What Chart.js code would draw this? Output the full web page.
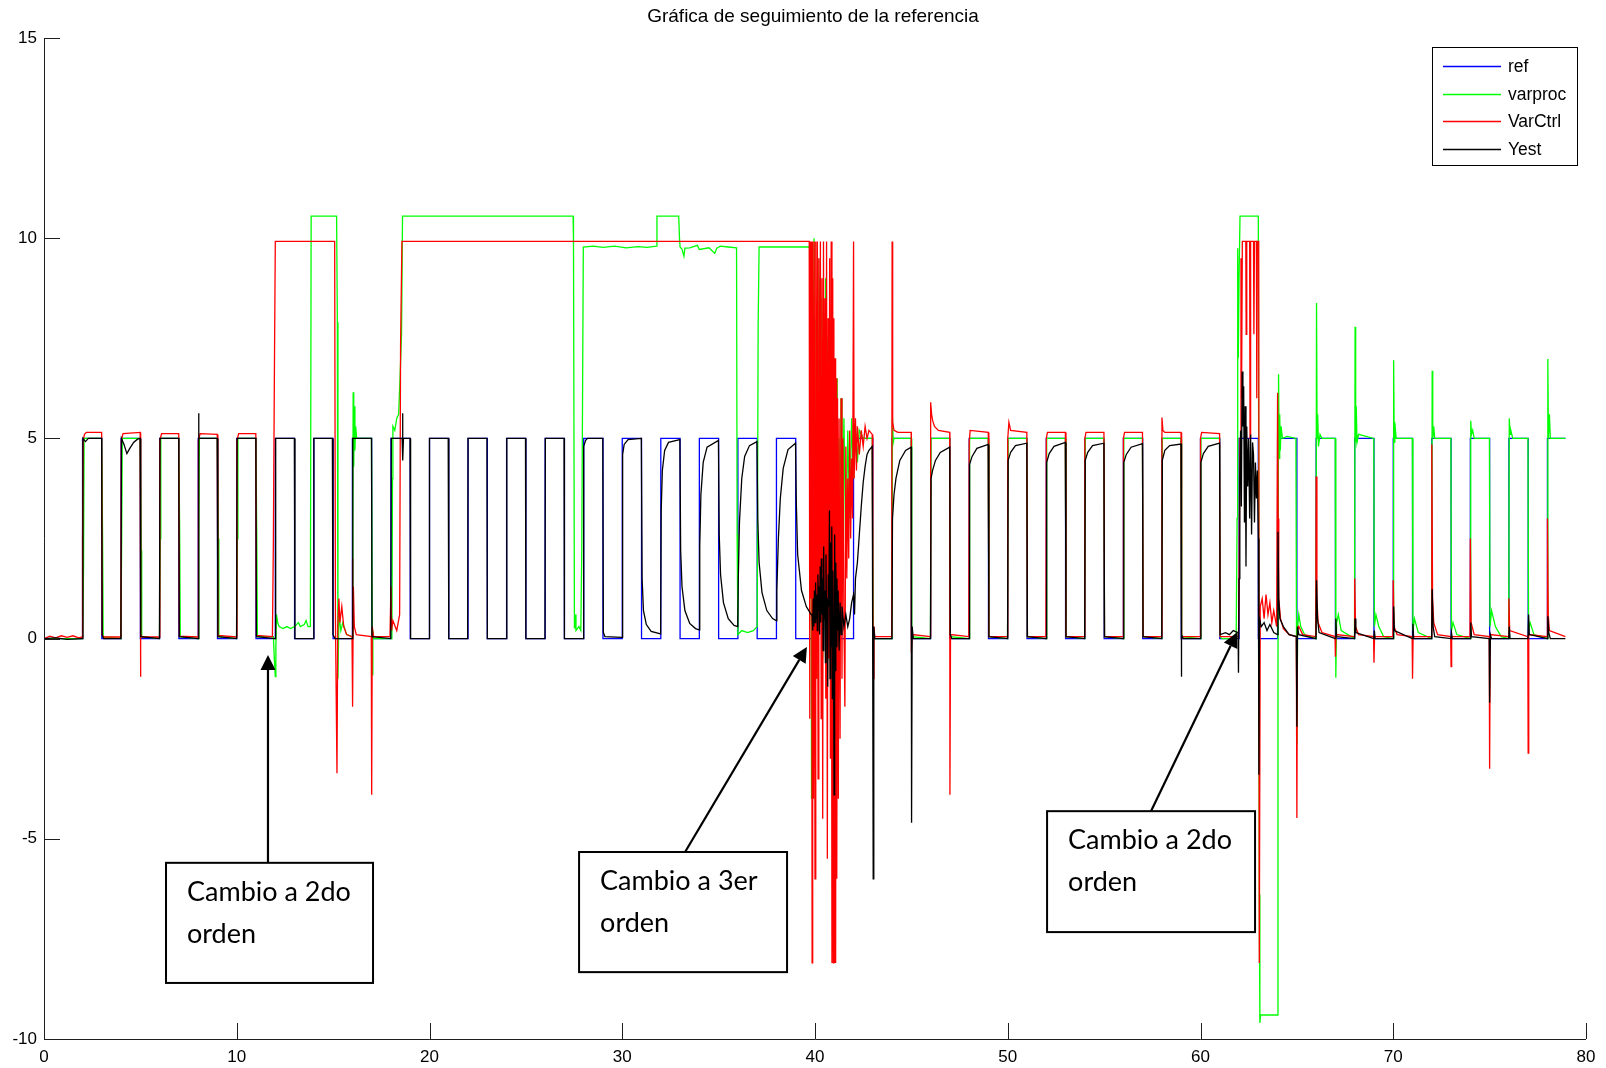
<!DOCTYPE html>
<html lang="es">
<head>
<meta charset="utf-8">
<title>Gráfica de seguimiento de la referencia</title>
<script src="https://cdn.jsdelivr.net/npm/chart.js@4.4.1/dist/chart.umd.min.js"></script>
<style>
  html, body { margin: 0; padding: 0; background: #ffffff; }
  #wrap { width: 1606px; height: 1068px; }
</style>
</head>
<body>
<div id="wrap"><canvas id="plot" width="1606" height="1068"></canvas></div>
<script>
// ---- Series: [time (s), value] ----
// ref: set-point square wave (stepped, each point marks a switch)
const ref = [
  [0,0],[2,5],[3,0],[4,5],[5,0],[6,5],[7,0],[8,5],[9,0],[10,5],[11,0],[12,5],[13,0],[14,5],[15,0],
  [16,5],[17,0],[18,5],[19,0],[20,5],[21,0],[22,5],[23,0],[24,5],[25,0],[26,5],[27,0],[28,5],[29,0],
  [30,5],[31,0],[32,5],[33,0],[34,5],[35,0],[36,5],[37,0],[38,5],[39,0],[39.86,5],[41,0],[42,5],[43,0],
  [44,5],[45,0],[46,5],[47,0],[48,5],[49,0],[50,5],[51,0],[52,5],[53,0],[54,5],[55,0],[56,5],[57,0],
  [58,5],[59,0],[60,5],[61,0],[62,5],[63,0],[64,5],[65,0],[66,5],[67,0],[68,5],[69,0],[70,5],[71,0],
  [72,5],[73,0],[74,5],[75,0],[76,5],[77,0],[78,5],[78.93,5]
];

// varproc: process variable
const varproc = [
  [0,0],[2.0,0],[2.05,1.7],[2.08,5.0],[2.99,5.0],[3.04,2.5],[3.07,0.05],[3.99,0],
  [4.03,2.5],[4.06,5.0],[4.99,5.0],[5.04,2.2],[5.07,0.05],[5.99,0],
  [6.03,2.5],[6.06,5.0],[6.99,5.0],[7.04,2.6],[7.07,0.05],[7.99,0],
  [8.03,2.5],[8.06,5.0],[8.99,5.0],[9.04,2.5],[9.07,0.05],[9.99,0],
  [10.03,2.5],[10.06,5.0],[10.99,5.0],[11.04,2.5],[11.07,0.05],[11.9,0.05],
  [11.95,-0.5],[12.0,-0.95],[12.03,-0.2],[12.06,0.6],[12.12,0.4],[12.2,0.3],[12.4,0.25],[12.6,0.3],
  [12.8,0.25],[13.0,0.3],[13.2,0.4],[13.3,0.3],[13.5,0.35],[13.6,0.45],[13.7,0.3],[13.82,0.3],
  [13.86,10.55],[15.18,10.55],[15.22,7.9],[15.25,-1.0],[15.3,0.6],[15.4,0.2],[15.5,0.4],[15.7,0.1],[15.98,0.05],
  [16.02,3.0],[16.04,6.15],[16.07,4.3],[16.1,5.8],[16.13,4.7],[16.17,5.3],[16.22,5.0],[16.99,5.0],
  [17.03,-0.9],[17.06,0.2],[17.1,0],[18.05,0],[18.08,4.0],[18.1,5.3],[18.2,5.2],[18.3,5.5],[18.4,5.6],
  [18.47,6.5],[18.55,7.6],[18.6,10.55],
  [27.45,10.55],[27.47,10.0],[27.52,0.25],[27.55,0.6],[27.6,0.2],[27.75,0.3],[27.85,0.2],[27.9,2.2],[27.98,9.78],
  [28.5,9.8],[29.0,9.77],[29.6,9.8],[30.2,9.76],[30.8,9.79],[31.3,9.77],[31.78,9.8],[31.8,10.55],[32.93,10.55],
  [32.97,10.0],[33.0,9.78],[33.1,9.72],[33.2,9.55],[33.25,9.75],[33.5,9.76],[33.9,9.82],[34.0,9.72],[34.5,9.76],
  [34.8,9.62],[34.9,9.75],[35.1,9.8],[35.5,9.78],[35.93,9.76],
  [35.96,2.6],[36.0,0.1],[36.2,0.2],[36.5,0.15],[36.8,0.2],[37.0,0.3],[37.05,7.8],[37.1,9.78],[39.72,9.78],
  [39.75,4.0],[39.78,9.78],[39.82,-4.0],[39.86,9.5],[39.9,2.0],[39.95,10.0],[40.0,0.5],[40.05,8.0],[40.1,-1.0],
  [40.15,9.5],[40.2,3.0],[40.25,9.0],[40.3,1.0],[40.35,8.5],[40.4,-0.5],[40.45,8.0],[40.5,2.0],[40.55,9.0],
  [40.6,3.0],[40.65,7.5],[40.7,1.0],[40.75,8.0],[40.8,2.5],[40.85,6.5],[40.9,-1.5],[40.95,7.0],[41.0,0.5],
  [41.05,6.0],[41.1,1.5],[41.15,6.5],[41.2,1.0],[41.25,5.0],[41.3,2.0],[41.35,6.0],[41.4,1.5],[41.5,5.5],
  [41.6,2.0],[41.7,5.2],[41.8,3.0],[41.9,5.5],[42.0,4.0],[42.1,5.3],[42.2,4.4],[42.3,5.2],[42.5,5.0],
  [42.97,5.0],[43.02,0.1],[43.1,0],[43.99,0],
  [44.02,5.5],[44.06,4.9],[44.1,5.0],[44.99,5.0],[45.02,0.05],[45.99,0],
  [46.02,5.0],[46.99,5.0],[47.02,0.05],[47.99,0],
  [48.02,5.0],[48.99,5.0],[49.02,0.05],[49.99,0],
  [50.02,5.0],[50.99,5.0],[51.02,0.05],[51.99,0],
  [52.02,5.0],[52.99,5.0],[53.02,0.05],[53.99,0],
  [54.02,5.0],[54.99,5.0],[55.02,0.05],[55.99,0],
  [56.02,5.0],[56.99,5.0],[57.02,0.05],[57.99,0],
  [58.02,5.0],[58.99,5.0],[59.02,0.05],[59.99,0],
  [60.02,5.0],[60.99,5.0],[61.02,0.05],[61.1,0],[61.85,0],
  [61.9,3.0],[61.93,9.75],[61.96,7.0],[62.0,9.0],[62.05,10.55],[63.0,10.55],[63.05,-6.4],[63.08,-9.6],
  [63.12,-9.4],[64.0,-9.4],[64.02,-0.9],[64.05,6.6],[64.08,4.5],[64.11,5.6],[64.14,4.7],[64.18,5.3],
  [64.25,5.0],[64.5,5.05],[64.95,5.0],[65.0,-2.66],[65.04,0.3],[65.1,0.6],[65.2,0.3],[65.4,0.1],[65.99,0],
  [66.02,8.38],[66.05,5.0],[66.08,5.6],[66.12,4.8],[66.2,5.1],[66.3,5.0],[66.99,5.0],
  [67.02,-0.98],[67.06,0.4],[67.15,0.6],[67.3,0.2],[67.99,0],
  [68.02,7.79],[68.05,4.9],[68.08,5.8],[68.12,4.9],[68.2,5.1],[68.99,5.0],
  [69.02,0.3],[69.1,0.6],[69.25,0.3],[69.5,0.05],[69.99,0],
  [70.02,6.95],[70.05,4.9],[70.08,5.4],[70.15,5.0],[70.99,5.0],
  [71.02,0.2],[71.1,0.5],[71.3,0.15],[71.99,0],
  [72.02,6.69],[72.05,5.0],[72.1,5.3],[72.15,5.0],[72.99,5.0],
  [73.02,0.2],[73.1,0.4],[73.3,0.1],[73.99,0],
  [74.02,5.44],[74.06,5.1],[74.12,5.2],[74.2,5.0],[74.99,5.0],
  [75.02,0.3],[75.1,0.7],[75.3,0.3],[75.6,0.05],[75.99,0],
  [76.02,5.5],[76.06,5.1],[76.1,5.2],[76.2,5.0],[76.99,5.0],
  [77.02,0.2],[77.1,0.4],[77.3,0.1],[77.99,0],
  [78.02,6.98],[78.05,5.0],[78.1,5.6],[78.15,5.0],[78.93,5.0]
];

// VarCtrl: controller output
const varCtrl = [
  [0,0],[0.3,0.06],[0.6,0.02],[0.9,0.07],[1.2,0.03],[1.5,0.07],[1.8,0.02],[1.98,0.04],
  [2.0,2.5],[2.03,4.95],[2.1,5.1],[2.2,5.15],[2.99,5.15],[3.02,0.1],[3.1,0.04],[3.99,0.04],
  [4.01,4.95],[4.1,5.12],[4.99,5.15],[5.0,-0.95],[5.03,0.1],[5.1,0.04],[5.99,0.04],
  [6.01,4.95],[6.1,5.12],[6.99,5.12],[7.02,0.06],[7.99,0.04],
  [8.01,4.95],[8.1,5.12],[8.99,5.1],[9.02,0.08],[9.99,0.04],
  [10.01,4.95],[10.1,5.12],[10.99,5.12],[11.02,0.08],[11.85,0.05],
  [11.9,2.4],[11.95,6.4],[12.0,9.92],[15.08,9.92],[15.12,0.5],[15.2,-3.36],[15.24,0.3],[15.3,1.0],
  [15.35,0.4],[15.45,0.8],[15.55,0.3],[15.7,0.1],[15.98,0.05],
  [16.0,2.0],[16.02,-1.7],[16.05,1.3],[16.1,0.3],[16.2,0.1],[16.98,0.05],[17.0,-3.9],[17.03,0.3],
  [17.1,0.05],[17.95,0.05],[18.0,1.3],[18.03,0.2],[18.1,0.45],[18.3,0.2],[18.45,0.6],[18.5,7.37],[18.57,9.92],
  [39.7,9.92],[39.73,-2.0],[39.76,9.92],[39.79,1.0],[39.82,9.92],[39.85,-8.1],[39.88,9.92],[39.92,-4.0],
  [39.96,9.92],[40.0,-6.0],[40.04,9.92],[40.08,-1.0],[40.12,9.92],[40.16,-3.5],[40.2,9.5],[40.24,0.5],
  [40.28,9.92],[40.32,-2.0],[40.36,9.0],[40.4,-4.5],[40.44,9.92],[40.48,1.0],[40.52,8.5],[40.56,-1.5],
  [40.6,9.92],[40.64,-5.5],[40.68,8.0],[40.72,-0.5],[40.76,9.5],[40.8,-3.0],[40.84,9.92],[40.88,-8.1],
  [40.92,9.0],[40.95,-8.1],[40.98,8.0],[41.01,-8.1],[41.04,7.0],[41.07,-8.1],[41.1,6.5],[41.13,-6.0],
  [41.17,6.0],[41.21,-4.0],[41.25,5.5],[41.3,-2.5],[41.35,6.0],[41.4,-1.0],[41.45,5.0],[41.5,0.5],
  [41.55,-1.7],[41.6,4.8],[41.65,1.5],[41.7,4.0],[41.75,2.0],[41.8,5.2],[41.85,2.5],[41.9,4.5],[41.95,3.0],
  [42.0,9.92],[42.03,4.0],[42.1,5.5],[42.15,4.2],[42.2,5.3],[42.3,4.6],[42.4,5.2],[42.5,4.8],[42.6,5.3],
  [42.7,5.0],[42.8,5.2],[42.97,5.1],[43.0,1.0],[43.03,-1.0],[43.06,0.3],[43.1,0.05],[43.98,0.05],
  [44.0,9.92],[44.03,5.4],[44.1,5.2],[44.3,5.15],[44.99,5.15],[45.0,-0.35],[45.04,0.1],[45.98,0.05],
  [46.0,5.9],[46.05,5.6],[46.1,5.45],[46.2,5.3],[46.4,5.2],[46.99,5.15],[47.0,-3.9],[47.03,0.1],[47.98,0.05],
  [48.0,4.9],[48.05,5.2],[48.99,5.15],[49.02,0.05],[49.98,0.05],
  [50.0,5.0],[50.06,5.4],[50.15,5.2],[50.99,5.15],[51.02,0.05],[51.98,0.05],
  [52.0,5.0],[52.06,5.15],[52.99,5.15],[53.02,0.05],[53.98,0.05],
  [54.0,5.0],[54.06,5.15],[54.99,5.15],[55.02,0.05],[55.98,0.05],
  [56.0,5.0],[56.06,5.15],[56.99,5.15],[57.02,0.05],[57.98,0.05],
  [58.0,5.52],[58.05,5.2],[58.15,5.15],[58.99,5.15],[59.02,0.05],[59.98,0.05],
  [60.0,5.0],[60.06,5.15],[60.99,5.12],[61.02,0.05],[61.97,0.05],
  [62.0,1.5],[62.05,5.0],[62.1,9.5],[62.13,6.0],[62.17,9.92],[62.35,9.92],[62.37,7.6],[62.4,9.92],
  [62.55,9.92],[62.57,5.0],[62.6,9.92],[62.75,9.92],[62.77,7.6],[62.8,9.92],[62.9,9.92],[62.92,6.0],
  [62.95,9.92],[63.02,9.92],[63.05,-8.1],[63.1,0.8],[63.2,1.0],[63.3,0.5],[63.4,1.1],[63.5,0.6],
  [63.6,0.9],[63.7,0.4],[63.8,0.7],[63.95,0.3],
  [64.0,6.14],[64.03,3.0],[64.06,1.0],[64.15,0.5],[64.3,0.25],[64.6,0.1],[64.97,0.05],[65.0,-4.48],
  [65.03,0.2],[65.1,0.3],[65.3,0.1],[65.98,0.05],
  [66.0,4.05],[66.04,1.0],[66.1,0.4],[66.3,0.15],[66.98,0.05],[67.0,-0.45],[67.03,0.1],[67.98,0.05],
  [68.0,1.5],[68.04,0.3],[68.2,0.1],[68.98,0.05],[69.0,-0.6],[69.03,0.05],[69.98,0.05],
  [70.0,1.46],[70.04,0.3],[70.2,0.1],[70.98,0.05],[71.0,-1.0],[71.03,0.05],[71.98,0.05],
  [72.0,4.85],[72.04,1.0],[72.1,0.4],[72.3,0.1],[72.98,0.05],[73.0,-0.7],[73.03,0.05],[73.98,0.05],
  [74.0,2.5],[74.04,0.4],[74.2,0.1],[74.98,0.05],[75.0,-3.25],[75.03,0.1],[75.98,0.05],
  [76.0,1.0],[76.04,0.2],[76.98,0.05],[77.0,-2.86],[77.03,0.1],[77.98,0.05],
  [78.0,3.0],[78.04,0.6],[78.1,0.2],[78.93,0.05]
];

// Yest: estimated output
const yest = [
  [0,0],[0.6,0.02],[1.2,-0.02],[1.98,0],[2.02,5],[2.15,4.92],[2.3,5],[2.99,5],[3.02,0.08],[3.1,0],[3.99,0],
  [4.02,5],[4.15,4.85],[4.3,4.62],[4.45,4.75],[4.65,4.9],[4.85,4.98],[4.99,5],[5.02,0.05],[5.99,0],
  [6.02,5],[6.99,5],[7.02,0.05],[7.99,0],
  [8.02,5.63],[8.04,5],[8.99,5],[9.02,0.05],[9.99,0],
  [10.02,5],[10.99,5],[11.02,0.05],[11.99,0],
  [12.02,5],[12.99,5],[13.02,0],[13.97,0],[14.0,5],[14.96,5],[14.99,0.1],[15.1,0],[15.99,0],
  [16.02,5],[16.99,5],[17.02,0.05],[17.99,0],
  [18.02,5],[18.58,5],[18.6,5.63],[18.62,4.45],[18.65,5],[18.99,5],[19.02,0],[19.98,0],
  [20.0,5],[20.97,5],[21.0,0],[21.98,0],[22.0,5],[22.98,5],[23.0,0],[23.99,0],[24.01,5],[24.98,5],
  [25.0,0],[25.99,0],[26.01,5],[26.98,5],[27.0,0],[27.97,0],
  [28.0,4.8],[28.1,4.95],[28.2,5],[28.99,5],[29.02,0.15],[29.1,0.05],[29.99,0.03],
  [30.02,4.6],[30.1,4.85],[30.3,4.97],[30.99,5],[31.03,1.5],[31.1,0.7],[31.25,0.35],[31.5,0.18],[31.99,0.12],
  [32.02,3.2],[32.08,4.2],[32.2,4.7],[32.4,4.9],[32.99,4.97],[33.03,2.2],[33.1,1.3],[33.25,0.7],[33.5,0.38],
  [33.8,0.25],[33.99,0.22],
  [34.02,2.3],[34.08,3.6],[34.2,4.4],[34.4,4.78],[34.99,4.95],[35.03,2.6],[35.1,1.6],[35.25,0.9],[35.5,0.5],
  [35.8,0.33],[35.99,0.3],
  [36.02,1.5],[36.08,2.9],[36.2,4.0],[36.35,4.55],[36.6,4.82],[36.99,4.92],[37.03,3.0],[37.1,1.9],[37.25,1.15],
  [37.5,0.7],[37.8,0.5],[37.99,0.45],
  [38.02,1.2],[38.1,2.5],[38.2,3.5],[38.35,4.25],[38.6,4.72],[38.99,4.88],[39.03,3.4],[39.1,2.1],[39.3,1.2],
  [39.55,0.8],[39.8,0.6],
  [39.85,0.6],[39.88,0.2],[39.91,1.0],[39.94,0.3],[39.97,1.2],[40.0,0.4],[40.03,1.4],[40.06,0.5],[40.09,1.1],
  [40.12,0.2],[40.15,1.6],[40.18,0.7],[40.21,1.3],[40.24,0.1],[40.27,1.8],[40.3,0.4],[40.33,2.0],[40.36,0.6],
  [40.39,1.5],[40.42,-0.3],[40.45,2.3],[40.48,0.5],[40.51,1.2],[40.54,-0.6],[40.57,2.1],[40.6,0.3],[40.63,1.0],
  [40.66,-1.2],[40.69,1.6],[40.72,0.8],[40.75,3.2],[40.78,-1.0],[40.81,2.4],[40.84,-0.2],[40.87,2.8],[40.9,-1.5],
  [40.93,1.7],[40.96,0.0],[40.99,-3.9],[41.02,2.6],[41.05,-0.8],[41.08,1.9],[41.11,-0.2],[41.14,1.5],[41.17,0.2],
  [41.2,1.2],[41.25,-0.3],[41.3,0.9],[41.35,0.1],[41.4,0.8],[41.5,0.3],[41.6,0.6],[41.7,0.3],[41.8,0.5],
  [41.9,0.9],[42.0,1.1],[42.05,0.6],[42.1,1.5],[42.2,1.9],[42.3,2.6],[42.4,3.3],[42.5,3.9],[42.6,4.3],
  [42.7,4.6],[42.8,4.7],[42.97,4.8],[43.0,4.8],[43.02,-6.0],[43.05,0.3],[43.1,0],[43.99,0],
  [44.02,3.0],[44.1,3.6],[44.2,4.0],[44.4,4.45],[44.7,4.7],[44.99,4.78],[45.01,-4.6],[45.04,0.3],[45.1,0],[45.99,0],
  [46.02,4.0],[46.1,4.2],[46.25,4.45],[46.5,4.65],[46.99,4.78],[47.02,0.1],[47.1,0],[47.99,0],
  [48.02,4.35],[48.15,4.55],[48.4,4.75],[48.99,4.85],[49.02,0.05],[49.99,0],
  [50.02,4.45],[50.15,4.65],[50.4,4.82],[50.99,4.88],[51.02,0.05],[51.99,0],
  [52.02,4.4],[52.15,4.62],[52.4,4.8],[52.99,4.9],[53.02,0.05],[53.99,0],
  [54.02,4.45],[54.15,4.65],[54.4,4.82],[54.99,4.88],[55.02,0.05],[55.99,0],
  [56.02,4.4],[56.15,4.6],[56.4,4.78],[56.99,4.87],[57.02,0.05],[57.99,0],
  [58.02,4.45],[58.15,4.7],[58.4,4.82],[58.99,4.86],[59.0,-0.95],[59.03,0.1],[59.1,0],[59.99,0],
  [60.02,4.4],[60.15,4.62],[60.4,4.8],[60.99,4.88],[61.02,0.1],[61.3,0.15],[61.5,0.1],[61.7,0.2],
  [61.95,0.15],[61.97,-0.85],
  [62.0,1.5],[62.04,4.0],[62.08,5.2],[62.12,3.3],[62.16,6.67],[62.2,5.3],[62.24,6.3],[62.28,2.9],[62.32,5.8],
  [62.36,1.8],[62.4,5.3],[62.45,3.8],[62.5,5.0],[62.55,3.0],[62.6,5.1],[62.65,2.6],[62.7,4.9],[62.75,4.6],
  [62.8,2.9],[62.85,4.4],[62.9,3.5],[62.95,4.2],[63.0,2.5],[63.03,-3.4],[63.06,0.5],[63.15,0.3],[63.3,0.4],
  [63.45,0.2],[63.6,0.35],[63.8,0.15],[63.99,0.1],
  [64.02,2.67],[64.06,1.0],[64.12,0.5],[64.3,0.3],[64.6,0.1],[64.97,0.05],[65.0,-2.2],[65.03,0.3],[65.1,0.1],[65.99,0],
  [66.02,1.46],[66.07,0.5],[66.15,0.15],[66.99,0],[67.02,0.5],[67.06,0.05],[67.99,0],
  [68.02,0.5],[68.06,0.15],[68.99,0],[69.02,0.2],[69.06,0],[69.99,0],
  [70.02,0.8],[70.06,0.2],[70.99,0],[71.02,0.37],[71.06,0],[71.99,0],
  [72.02,1.24],[72.07,0.3],[72.15,0.05],[72.99,0],[73.02,0.15],[73.06,0],[73.99,0],
  [74.02,0.4],[74.06,0.05],[74.98,0],[75.0,-1.6],[75.04,0.1],[75.1,0],[75.99,0],
  [76.02,0.3],[76.06,0],[76.99,0],[77.02,0.6],[77.06,0.1],[77.99,0],
  [78.02,0.56],[78.07,0.15],[78.15,0],[78.93,0]
];

// ---- Axis ticks ----
const xTicks = [0, 10, 20, 30, 40, 50, 60, 70, 80];
const yTicks = [-10, -5, 0, 5, 10, 15];

// ---- Text ----
const chartTitle = 'Gráfica de seguimiento de la referencia';
const seriesNames = ['ref', 'varproc', 'VarCtrl', 'Yest'];
const seriesColors = ['#0000ff', '#00ff00', '#ff0000', '#000000'];

// Callout boxes in data coordinates: box = [x0, yTop, x1, yBottom]
const callouts = [
  { lines: ['Cambio a 2do', 'orden'], box: [6.33, -5.6, 17.07, -8.6], tail: [11.62, -5.6], tip: [11.62, -0.41] },
  { lines: ['Cambio a 3er', 'orden'], box: [27.76, -5.33, 38.55, -8.33], tail: [33.26, -5.33], tip: [39.58, -0.21] },
  { lines: ['Cambio a 2do', 'orden'], box: [52.04, -4.31, 62.83, -7.33], tail: [57.43, -4.31], tip: [61.9, 0.16] }
];

const toXY = pts => pts.map(p => ({ x: p[0], y: p[1] }));
const seriesData = [ref, varproc, varCtrl, yest];

const AXIS_COLOR = '#1e1e1e';
const TICK_LEN = 16;

// Axes drawn MATLAB-style: left and bottom lines, ticks pointing inward
const axesPlugin = {
  id: 'inwardAxes',
  afterDatasetsDraw(chart) {
    const { ctx, chartArea: a, scales: { x, y } } = chart;
    ctx.save();
    ctx.strokeStyle = AXIS_COLOR;
    ctx.lineWidth = 1;
    ctx.beginPath();
    ctx.moveTo(a.left + 0.5, a.top);
    ctx.lineTo(a.left + 0.5, a.bottom + 0.5);
    ctx.lineTo(a.right, a.bottom + 0.5);
    x.ticks.forEach(t => {
      const px = Math.round(x.getPixelForValue(t.value)) + 0.5;
      ctx.moveTo(px, a.bottom);
      ctx.lineTo(px, a.bottom - TICK_LEN);
    });
    y.ticks.forEach(t => {
      const py = Math.round(y.getPixelForValue(t.value)) + 0.5;
      ctx.moveTo(a.left, py);
      ctx.lineTo(a.left + TICK_LEN, py);
    });
    ctx.stroke();
    ctx.restore();
  }
};

// Title, legend box and callouts
const decorPlugin = {
  id: 'decor',
  afterDraw(chart) {
    const { ctx, chartArea: a, scales: { x, y } } = chart;
    ctx.save();

    // title
    ctx.fillStyle = '#000';
    ctx.font = '19px "Liberation Sans", Arial, sans-serif';
    ctx.textAlign = 'center';
    ctx.textBaseline = 'alphabetic';
    ctx.fillText(chartTitle, (a.left + a.right) / 2 - 2, 22);

    // legend
    const lw = 145, lh = 118;
    const lx = a.right - 9 - lw, ly = a.top + 9;
    ctx.fillStyle = '#fff';
    ctx.fillRect(lx, ly, lw, lh);
    ctx.strokeStyle = '#000';
    ctx.lineWidth = 1;
    ctx.strokeRect(lx + 0.5, ly + 0.5, lw, lh);
    ctx.font = '17.5px "Liberation Sans", Arial, sans-serif';
    ctx.textAlign = 'left';
    ctx.textBaseline = 'middle';
    seriesNames.forEach((name, i) => {
      const ry = Math.round(ly + 19 + i * 27.6) + 0.5;
      ctx.strokeStyle = seriesColors[i];
      ctx.lineWidth = 1.3;
      ctx.beginPath();
      ctx.moveTo(lx + 11, ry);
      ctx.lineTo(lx + 69, ry);
      ctx.stroke();
      ctx.fillStyle = '#000';
      ctx.fillText(name, lx + 76, ry + 1);
    });

    // callouts
    callouts.forEach(c => {
      const x0 = x.getPixelForValue(c.box[0]), y0 = y.getPixelForValue(c.box[1]);
      const x1 = x.getPixelForValue(c.box[2]), y1 = y.getPixelForValue(c.box[3]);
      const tx = x.getPixelForValue(c.tail[0]), ty = y.getPixelForValue(c.tail[1]);
      const hx = x.getPixelForValue(c.tip[0]), hy = y.getPixelForValue(c.tip[1]);

      // arrow shaft
      const ang = Math.atan2(hy - ty, hx - tx);
      const headLen = 15, headHalf = 7.5;
      const bx = hx - headLen * Math.cos(ang), by = hy - headLen * Math.sin(ang);
      ctx.strokeStyle = '#000';
      ctx.lineWidth = 2.2;
      ctx.beginPath();
      ctx.moveTo(tx, ty);
      ctx.lineTo(bx, by);
      ctx.stroke();
      // arrow head
      ctx.fillStyle = '#000';
      ctx.beginPath();
      ctx.moveTo(hx, hy);
      ctx.lineTo(bx + headHalf * Math.sin(ang), by - headHalf * Math.cos(ang));
      ctx.lineTo(bx - headHalf * Math.sin(ang), by + headHalf * Math.cos(ang));
      ctx.closePath();
      ctx.fill();

      // box
      ctx.fillStyle = '#fff';
      ctx.fillRect(x0, y0, x1 - x0, y1 - y0);
      ctx.lineWidth = 2;
      ctx.strokeRect(x0, y0, x1 - x0, y1 - y0);

      // text
      ctx.fillStyle = '#000';
      ctx.font = '27px Lato, "Open Sans", sans-serif';
      ctx.textAlign = 'left';
      ctx.textBaseline = 'alphabetic';
      c.lines.forEach((ln, i) => ctx.fillText(ln, x0 + 21, y0 + 38 + i * 42));
    });

    ctx.restore();
  }
};

const datasets = seriesNames.map((name, i) => ({
  label: name,
  data: toXY(seriesData[i]),
  borderColor: seriesColors[i],
  backgroundColor: seriesColors[i],
  borderWidth: 1.3,
  pointRadius: 0,
  pointHoverRadius: 0,
  tension: 0,
  fill: false,
  stepped: i === 0,
  order: 4 - i
}));

new Chart(document.getElementById('plot'), {
  type: 'line',
  data: { datasets },
  options: {
    responsive: false,
    animation: false,
    devicePixelRatio: 1,
    events: [],
    layout: { padding: { top: 38, right: 20, bottom: 0, left: 0 } },
    plugins: {
      legend: { display: false },
      title: { display: false },
      tooltip: { enabled: false }
    },
    scales: {
      x: {
        type: 'linear',
        min: 0, max: 80,
        afterBuildTicks: s => { s.ticks = xTicks.map(v => ({ value: v })); },
        afterFit: s => { s.height = 29; },
        grid: { display: false, drawTicks: false },
        border: { display: false },
        ticks: {
          padding: 8,
          color: '#000',
          font: { family: '"Liberation Sans", Arial, sans-serif', size: 17 },
          maxRotation: 0,
          autoSkip: false
        }
      },
      y: {
        type: 'linear',
        min: -10, max: 15,
        afterBuildTicks: s => { s.ticks = yTicks.map(v => ({ value: v })); },
        afterFit: s => { s.width = 44; },
        grid: { display: false, drawTicks: false },
        border: { display: false },
        ticks: {
          padding: 7,
          color: '#000',
          font: { family: '"Liberation Sans", Arial, sans-serif', size: 17 },
          autoSkip: false
        }
      }
    }
  },
  plugins: [axesPlugin, decorPlugin]
});
</script>
</body>
</html>
